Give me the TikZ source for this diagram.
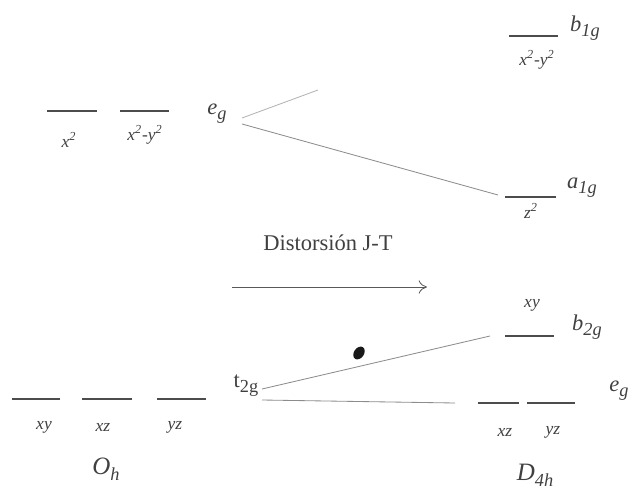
\documentclass[tikz,border=0pt]{standalone}
\usepackage{fontspec}
\setmainfont{Liberation Serif}
\usetikzlibrary{arrows.meta, positioning}

\newcommand{\subsz}{\fontsize{11}{12}\selectfont}
\newcommand{\orbsym}[2]{\textit{#1}\raisebox{-0.5ex}{\subsz\textit{#2}}}

\begin{document}
\begin{tikzpicture}[x=0.6pt, y=-0.6pt, >={To[length=5pt, width=8pt]},
    level/.style={draw=black!70, line width=0.7pt},
    corr/.style={draw=black!45, line width=0.5pt},
    orb/.style={text=black!75, font=\fontsize{10.5}{12}\selectfont\itshape, inner sep=1pt},
    sym/.style={text=black!75, font=\fontsize{13.5}{15}\selectfont, inner sep=1pt},
    grp/.style={text=black!75, font=\fontsize{15}{17}\selectfont, inner sep=1pt}]

    \useasboundingbox (0,0) rectangle (629,491);

    % Oh: eg set
    \coordinate (ohz2) at (47,111);
    \coordinate (ohx2y2) at (120,111);
    \draw [level] (ohz2) -- ++(50,0);
    \draw [level] (ohx2y2) -- ++(49,0);
    \node [orb] (lz2) at (69,140) {x\textsuperscript{2}};
    \node [orb] (lx2y2) at (145,135) {x\textsuperscript{2}-y\textsuperscript{2}};
    \node [sym] (egoh) at (217,114) {\orbsym{e}{g}};

    % Oh: t2g set
    \coordinate (ohxy) at (12,399);
    \coordinate (ohxz) at (82,399);
    \coordinate (ohyz) at (157,399);
    \draw [level] (ohxy) -- ++(48,0);
    \draw [level] (ohxz) -- ++(50,0);
    \draw [level] (ohyz) -- ++(49,0);
    \node [orb] (lxy) at (44,427) {xy};
    \node [orb] (lxz) at (103,427) {xz};
    \node [orb] (lyz) at (175,427) {yz};
    \node [sym] (t2g) at (246,386) {t\raisebox{-0.5ex}{\subsz 2g}};
    \node [grp] (oh) at (106,469) {\orbsym{O}{h}};

    % D4h: upper levels
    \coordinate (b1g) at (509,36);
    \coordinate (a1g) at (505,197);
    \draw [level] (b1g) -- ++(49,0);
    \draw [level] (a1g) -- ++(51,0);
    \node [sym] (lb1g) at (585,28) {\orbsym{b}{1g}};
    \node [orb] (lb1gorb) at (537,60) {x\textsuperscript{2}-y\textsuperscript{2}};
    \node [sym] (la1g) at (582,188) {\orbsym{a}{1g}};
    \node [orb] (la1gorb) at (531,211) {z\textsuperscript{2}};

    % D4h: lower levels
    \coordinate (b2g) at (505,336);
    \coordinate (dxz) at (478,403);
    \coordinate (dyz) at (527,403);
    \draw [level] (b2g) -- ++(49,0);
    \draw [level] (dxz) -- ++(41,0);
    \draw [level] (dyz) -- ++(48,0);
    \node [orb] (lb2gorb) at (532,305) {xy};
    \node [sym] (lb2g) at (587,327) {\orbsym{b}{2g}};
    \node [orb] (ldxz) at (505,432) {xz};
    \node [orb] (ldyz) at (553,432) {yz};
    \node [sym] (egd) at (619,391) {\orbsym{e}{g}};
    \node [grp] (d4h) at (535,475) {\orbsym{D}{4h}};

    % Distortion
    \node [sym] (jt) at (328,243) {Distorsión J-T};
    \coordinate (arrs) at (232,287);
    \coordinate (arre) at (427,287);
    \draw [corr, ->, draw=black!65] (arrs) -- (arre);

    % Correlation lines
    \coordinate (egup) at (242,118);
    \coordinate (egupend) at (318,90);
    \coordinate (egdn) at (242,124);
    \coordinate (a1gend) at (498,195);
    \draw [corr, draw=black!30] (egup) -- (egupend);
    \draw [corr] (egdn) -- (a1gend);
    \coordinate (t2gup) at (262,389);
    \coordinate (b2gend) at (490,336);
    \coordinate (t2gdn) at (262,400);
    \coordinate (egdend) at (455,403);
    \draw [corr] (t2gup) -- (b2gend);
    \draw [corr] (t2gdn) -- (egdend);

    % smudge
    \fill [black!90, rotate around={-35:(359,353)}] (359,353) ellipse [x radius=5, y radius=7];
\end{tikzpicture}
\end{document}
